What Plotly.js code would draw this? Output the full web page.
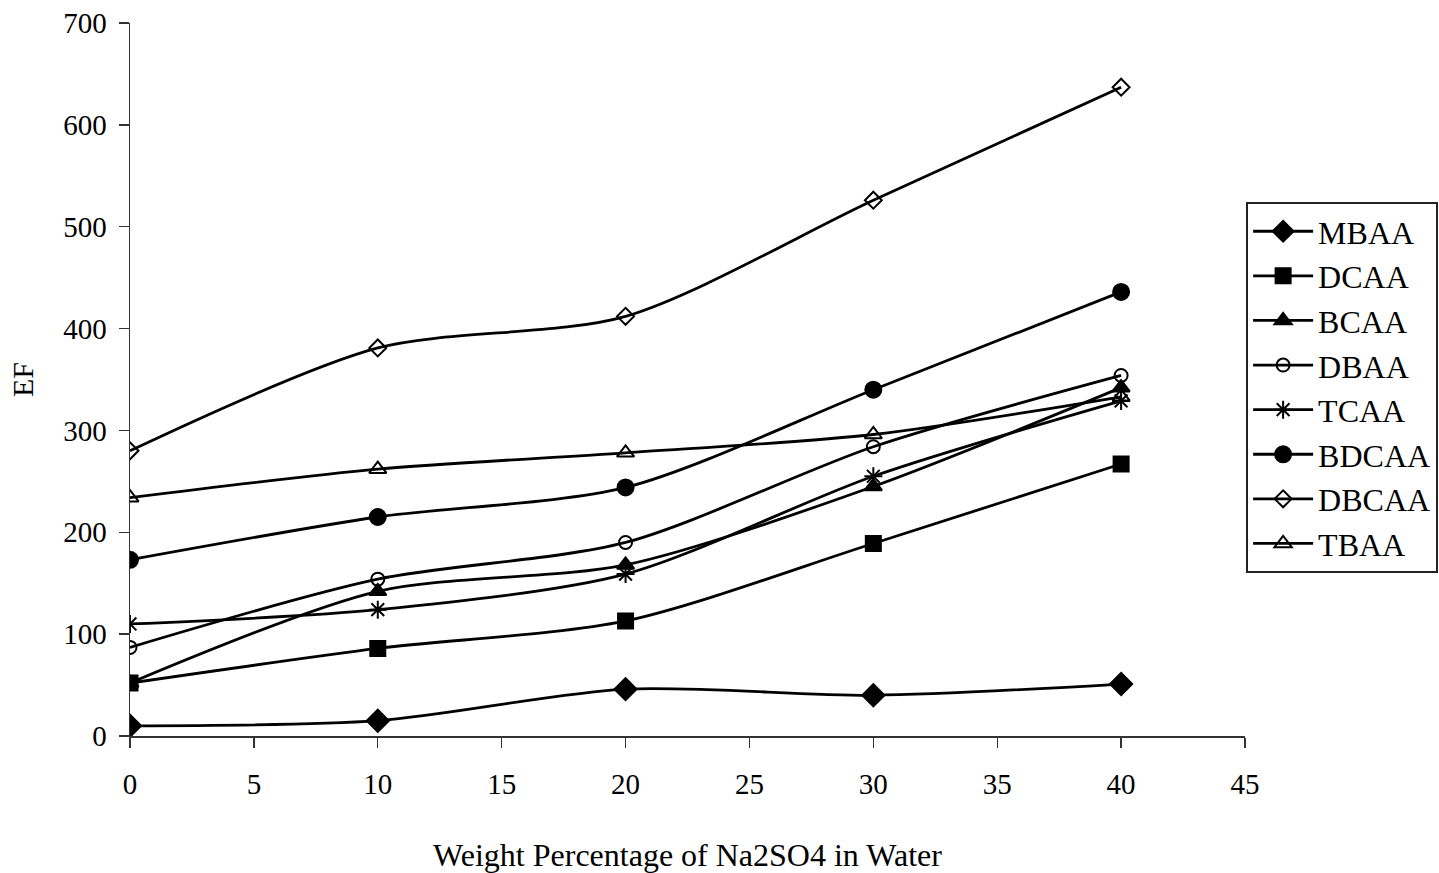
<!DOCTYPE html>
<html>
<head>
<meta charset="utf-8">
<script src="https://cdn.plot.ly/plotly-3.0.1.min.js"></script>
<style>
  html, body { margin: 0; padding: 0; background: #fff; }
  #chart { width: 1439px; height: 873px; }
</style>
</head>
<body>
<div id="chart"></div>
<script>
// Na2SO4 weight percentage (x) and enrichment factor for each acid
const salt  = [0, 10, 20, 30, 40];

const mbaa  = [10, 15, 46, 40, 51];
const dcaa  = [52, 86, 113, 189, 267];
const bcaa  = [52, 142, 168, 245, 342];
const dbaa  = [87, 154, 190, 284, 354];
const tcaa  = [110, 124, 159, 255, 329];
const bdcaa = [173, 215, 244, 340, 436];
const dbcaa = [280, 381, 412, 526, 637];
const tbaa  = [234, 262, 278, 296, 333];

const seriesNames = ['MBAA', 'DCAA', 'BCAA', 'DBAA', 'TCAA', 'BDCAA', 'DBCAA', 'TBAA'];
const seriesData  = [mbaa, dcaa, bcaa, dbaa, tcaa, bdcaa, dbcaa, tbaa];

// marker look per series (symbol, size)
const MARKERS = [
  { symbol: 'diamond',          size: 17 },
  { symbol: 'square',           size: 15 },
  { symbol: 'triangle-up',      size: 15 },
  { symbol: 'circle-open',      size: 13 },
  { symbol: 'asterisk-open',    size: 15 },
  { symbol: 'circle',           size: 16 },
  { symbol: 'diamond-open',     size: 13 },
  { symbol: 'triangle-up-open', size: 15 },
];

const INK = '#000';
const FONT = '"Liberation Serif", "Times New Roman", serif';

const traces = seriesNames.map((name, i) => ({
  x: salt,
  y: seriesData[i],
  type: 'scatter',
  mode: 'lines+markers',
  name,
  line: { color: INK, width: 2.8, shape: 'spline', smoothing: 0.8 },
  marker: {
    symbol: MARKERS[i].symbol,
    size: MARKERS[i].size,
    color: INK,
    line: { color: INK, width: 2 },
  },
}));

const axisCommon = {
  showgrid: false,
  zeroline: false,
  showline: true,
  linecolor: '#333',
  linewidth: 1.5,
  tickcolor: '#333',
  tickwidth: 1.3,
  ticklen: 10,
  tickfont: { family: FONT, size: 29, color: INK },
};

const layout = {
  width: 1439,
  height: 873,
  paper_bgcolor: '#fff',
  plot_bgcolor: '#fff',
  font: { family: FONT, color: INK },
  margin: { t: 23, r: 194, b: 137, l: 130, autoexpand: false },
  showlegend: true,
  xaxis: {
    ...axisCommon,
    range: [0, 45],
    dtick: 5,
    ticks: 'outside',
    ticklabelstandoff: 12,
    title: { text: 'Weight Percentage of Na2SO4 in Water', font: { family: FONT, size: 32, color: INK }, standoff: 45 },
  },
  yaxis: {
    ...axisCommon,
    range: [0, 700],
    dtick: 100,
    ticks: 'outside',
    ticklabelstandoff: 6,
    title: { text: 'EF', font: { family: FONT, size: 30, color: INK }, standoff: 20 },
  },
  // overlay axes draw the inner half of the crossing tick marks
  xaxis2: {
    ...axisCommon,
    overlaying: 'x', anchor: 'y', side: 'bottom',
    range: [0, 45], dtick: 5, ticks: 'inside', showticklabels: false,
  },
  yaxis2: {
    ...axisCommon,
    overlaying: 'y', anchor: 'x', side: 'left',
    range: [0, 700], dtick: 100, ticks: 'inside', showticklabels: false,
  },
  legend: {
    x: 1.001, xanchor: 'left',
    y: 0.749, yanchor: 'top',
    bgcolor: '#fff',
    bordercolor: '#222',
    borderwidth: 2,
    font: { family: FONT, size: 32, color: INK },
    itemwidth: 60,
    tracegroupgap: 0,
  },
};

Plotly.newPlot('chart', traces, layout, { displayModeBar: false, staticPlot: true });
</script>
</body>
</html>
